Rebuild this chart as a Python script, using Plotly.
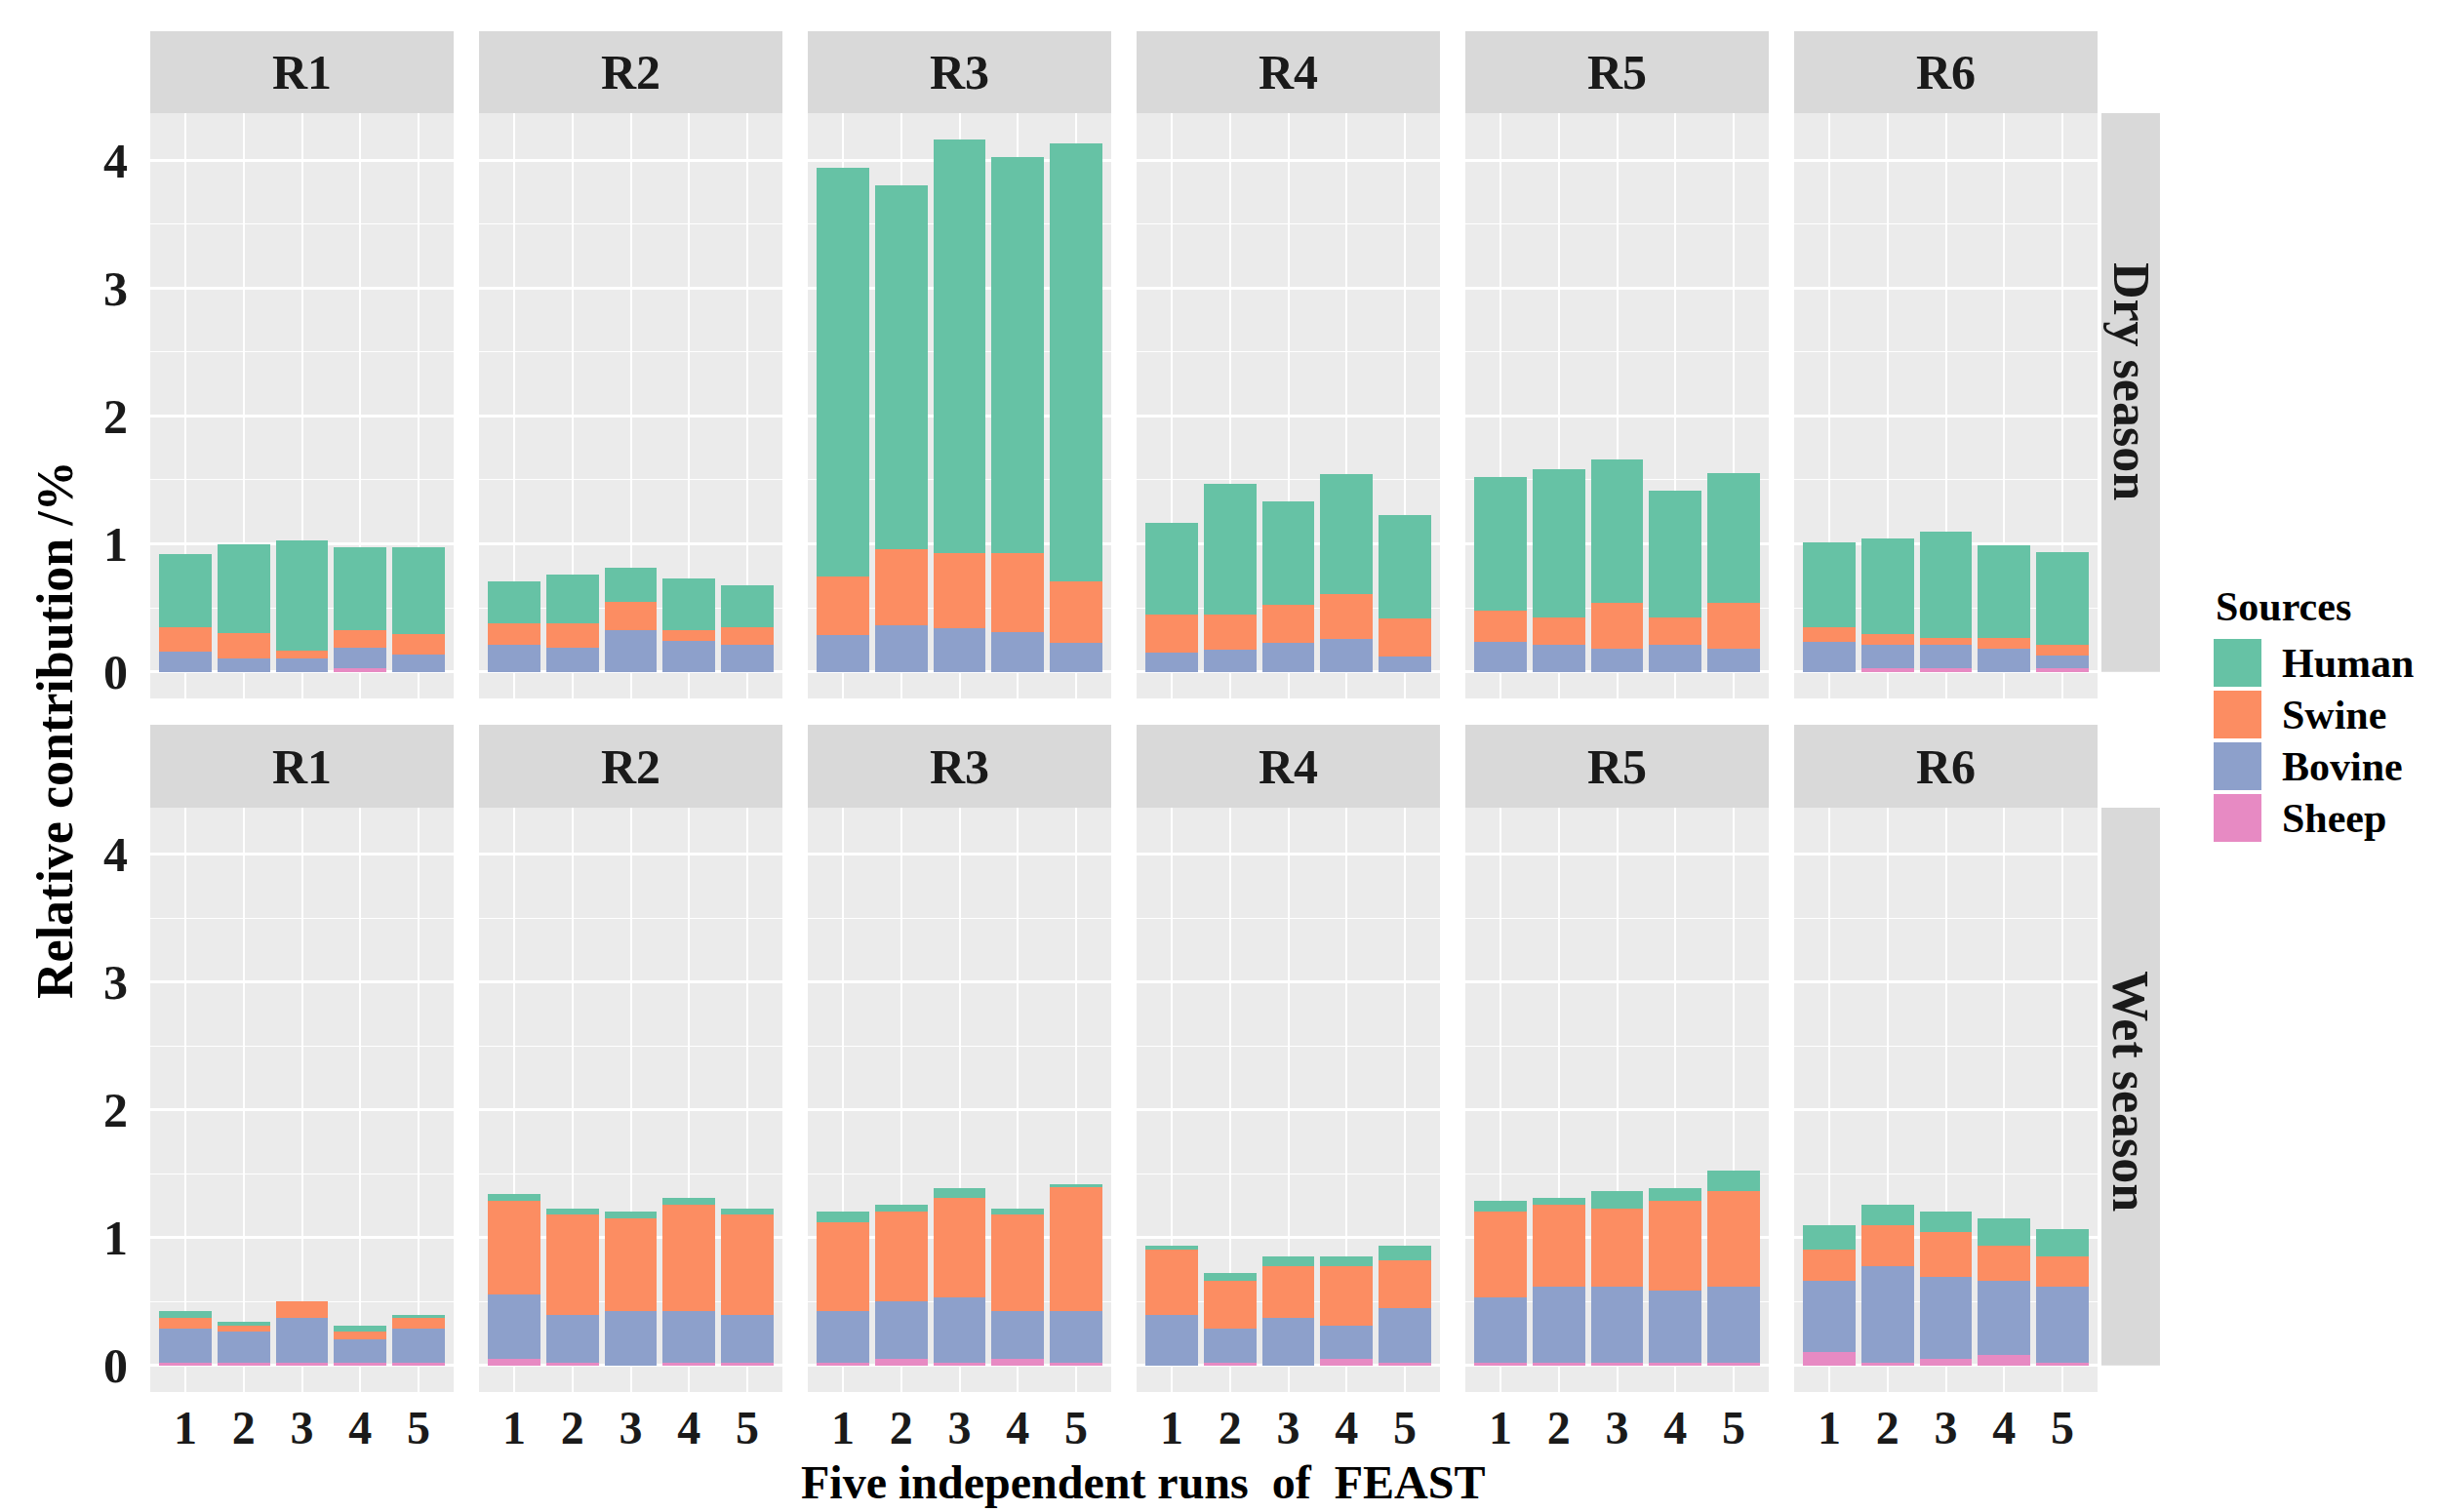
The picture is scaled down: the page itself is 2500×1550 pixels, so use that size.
import plotly.graph_objects as go
from plotly.subplots import make_subplots

# data (relative contribution /%)
regions = ["R1", "R2", "R3", "R4", "R5", "R6"]
runs = [1, 2, 3, 4, 5]
seasons = ["Dry season", "Wet season"]

dry_sheep = [
    [0, 0, 0, 0.028, 0],
    [0, 0, 0, 0, 0],
    [0, 0, 0, 0, 0],
    [0, 0, 0, 0, 0],
    [0, 0, 0, 0, 0],
    [0, 0.028, 0.028, 0, 0.028],
]
dry_bovine = [
    [0.16, 0.105, 0.105, 0.162, 0.136],
    [0.213, 0.19, 0.328, 0.241, 0.213],
    [0.284, 0.365, 0.338, 0.311, 0.23],
    [0.149, 0.176, 0.23, 0.257, 0.122],
    [0.238, 0.208, 0.182, 0.208, 0.182],
    [0.238, 0.18, 0.18, 0.182, 0.101],
]
dry_swine = [
    [0.19, 0.195, 0.062, 0.138, 0.161],
    [0.164, 0.187, 0.218, 0.087, 0.138],
    [0.459, 0.594, 0.588, 0.615, 0.48],
    [0.297, 0.27, 0.297, 0.351, 0.297],
    [0.241, 0.22, 0.355, 0.22, 0.355],
    [0.107, 0.086, 0.058, 0.084, 0.079],
]
dry_human = [
    [0.57, 0.70, 0.863, 0.649, 0.68],
    [0.328, 0.382, 0.269, 0.403, 0.328],
    [3.195, 2.841, 3.232, 3.094, 3.42],
    [0.718, 1.021, 0.803, 0.934, 0.804],
    [1.046, 1.153, 1.122, 0.988, 1.013],
    [0.668, 0.745, 0.831, 0.722, 0.729],
]

wet_sheep = [
    [0.023, 0.023, 0.023, 0.023, 0.023],
    [0.048, 0.023, 0, 0.023, 0.023],
    [0.023, 0.048, 0.023, 0.048, 0.023],
    [0, 0.023, 0, 0.048, 0.023],
    [0.023, 0.023, 0.023, 0.023, 0.023],
    [0.104, 0.023, 0.048, 0.079, 0.023],
]
wet_bovine = [
    [0.267, 0.241, 0.351, 0.185, 0.267],
    [0.509, 0.374, 0.425, 0.402, 0.374],
    [0.402, 0.458, 0.508, 0.377, 0.402],
    [0.397, 0.267, 0.374, 0.265, 0.427],
    [0.508, 0.592, 0.592, 0.562, 0.592],
    [0.562, 0.752, 0.644, 0.587, 0.592],
]
wet_swine = [
    [0.084, 0.049, 0.132, 0.056, 0.084],
    [0.732, 0.783, 0.729, 0.836, 0.783],
    [0.699, 0.699, 0.784, 0.755, 0.971],
    [0.513, 0.376, 0.401, 0.462, 0.376],
    [0.674, 0.646, 0.616, 0.704, 0.75],
    [0.244, 0.323, 0.353, 0.272, 0.239],
]
wet_human = [
    [0.051, 0.03, 0, 0.049, 0.023],
    [0.051, 0.051, 0.051, 0.054, 0.051],
    [0.081, 0.051, 0.076, 0.051, 0.025],
    [0.028, 0.054, 0.079, 0.079, 0.112],
    [0.084, 0.054, 0.134, 0.102, 0.161],
    [0.188, 0.158, 0.16, 0.216, 0.216],
]

# stacking order bottom -> top
sources = ["Sheep", "Bovine", "Swine", "Human"]
colors = {"Human": "#66C2A5", "Swine": "#FC8D62", "Bovine": "#8DA0CB", "Sheep": "#E78AC3"}

season_data = {
    "Dry season": {"Sheep": dry_sheep, "Bovine": dry_bovine, "Swine": dry_swine, "Human": dry_human},
    "Wet season": {"Sheep": wet_sheep, "Bovine": wet_bovine, "Swine": wet_swine, "Human": wet_human},
}

W, H = 2500, 1550
FONT = "Liberation Serif"
TXT = "#1a1a1a"

fig = make_subplots(rows=2, cols=6)

for r, season in enumerate(seasons):
    for c, reg in enumerate(regions):
        for src in sources:
            fig.add_trace(go.Bar(
                x=runs,
                y=season_data[season][src][c],
                name=src,
                marker=dict(color=colors[src], line=dict(width=0)),
                showlegend=False,
            ), row=r + 1, col=c + 1)

# panel geometry (pixels)
panel_left = [146 + 337 * c for c in range(6)]
panel_w = 311
row_top = [108, 820]
row_bot = [708, 1419]
strip_top = [24, 735]
yrange = [-0.208, 4.366]

for r in range(2):
    for c in range(6):
        x0 = panel_left[c] / W
        x1 = (panel_left[c] + panel_w) / W
        y0 = (H - row_bot[r]) / H
        y1 = (H - row_top[r]) / H
        fig.update_xaxes(
            domain=[x0, x1], range=[0.4, 5.6], tickvals=runs,
            showticklabels=(r == 1), showgrid=True, gridcolor="white", gridwidth=2,
            ticks="", ticklabelstandoff=4,
            tickfont=dict(family=FONT, size=48, color=TXT, weight="bold"),
            zeroline=False, showline=False,
            row=r + 1, col=c + 1,
        )
        fig.update_yaxes(
            domain=[y0, y1], range=yrange, tickvals=[0, 1, 2, 3, 4],
            showticklabels=(c == 0), showgrid=True, gridcolor="white", gridwidth=2.5,
            minor=dict(dtick=0.5, tick0=0, showgrid=True, gridcolor="white", gridwidth=1.2),
            ticks="", ticklabelstandoff=22,
            tickfont=dict(family=FONT, size=50, color=TXT, weight="bold"),
            zeroline=True, zerolinecolor="white", zerolinewidth=2.5, showline=False,
            row=r + 1, col=c + 1,
        )

shapes = []
annotations = []

# top strips
for r in range(2):
    for c, reg in enumerate(regions):
        shapes.append(dict(
            type="rect", xref="paper", yref="paper", layer="below",
            x0=panel_left[c] / W, x1=(panel_left[c] + panel_w) / W,
            y0=(H - row_top[r]) / H, y1=(H - strip_top[r]) / H,
            fillcolor="#D9D9D9", line=dict(width=0),
        ))
        annotations.append(dict(
            text=reg, xref="paper", yref="paper", showarrow=False,
            xanchor="center", yanchor="middle",
            x=(panel_left[c] + panel_w / 2) / W, y=(H - (row_top[r] + strip_top[r]) / 2) / H,
            font=dict(family=FONT, size=50, color=TXT, weight="bold"),
        ))

# right strips
strip_label_y = [2.27, 2.15]
for r, season in enumerate(seasons):
    yref = "y" if r == 0 else "y7"
    shapes.append(dict(
        type="rect", xref="paper", yref=yref, layer="below",
        x0=2146 / W, x1=2206 / W, y0=0, y1=yrange[1],
        fillcolor="#D9D9D9", line=dict(width=0),
    ))
    annotations.append(dict(
        text=season, xref="paper", yref=yref, showarrow=False,
        xanchor="center", yanchor="middle",
        x=2176 / W, y=strip_label_y[r], textangle=90,
        font=dict(family=FONT, size=52, color=TXT, weight="bold"),
    ))

# axis titles
annotations.append(dict(
    text="Relative contribution /%", xref="paper", yref="paper", showarrow=False,
    xanchor="center", yanchor="middle",
    x=48 / W, y=(H - 740) / H, textangle=-90,
    font=dict(family=FONT, size=52, color="#000000", weight="bold"),
))
annotations.append(dict(
    text="Five independent runs\u00a0\u00a0of\u00a0\u00a0FEAST", xref="paper", yref="paper",
    showarrow=False, xanchor="center", yanchor="middle",
    x=1163 / W, y=(H - 1511) / H,
    font=dict(family=FONT, size=48, color="#000000", weight="bold"),
))

# legend
annotations.append(dict(
    text="Sources", xref="paper", yref="paper", showarrow=False,
    x=2261 / W, y=(H - 614) / H, xanchor="left", yanchor="middle",
    font=dict(family=FONT, size=42, color="#000000", weight="bold"),
))
legend_order = ["Human", "Swine", "Bovine", "Sheep"]
for i, src in enumerate(legend_order):
    top = 647 + i * 53
    shapes.append(dict(
        type="rect", xref="paper", yref="paper",
        x0=2261 / W, x1=2310 / W, y0=(H - top - 49) / H, y1=(H - top) / H,
        fillcolor=colors[src], line=dict(width=0),
    ))
    annotations.append(dict(
        text=src, xref="paper", yref="paper", showarrow=False,
        x=2329 / W, y=(H - top - 25) / H, xanchor="left", yanchor="middle",
        font=dict(family=FONT, size=42, color="#000000", weight="bold"),
    ))

fig.update_layout(
    width=W, height=H,
    margin=dict(l=0, r=0, t=0, b=0),
    barmode="stack", bargap=0.1,
    paper_bgcolor="white", plot_bgcolor="#EBEBEB",
    shapes=shapes, annotations=annotations,
    showlegend=False,
)

fig.write_html("out.html")
